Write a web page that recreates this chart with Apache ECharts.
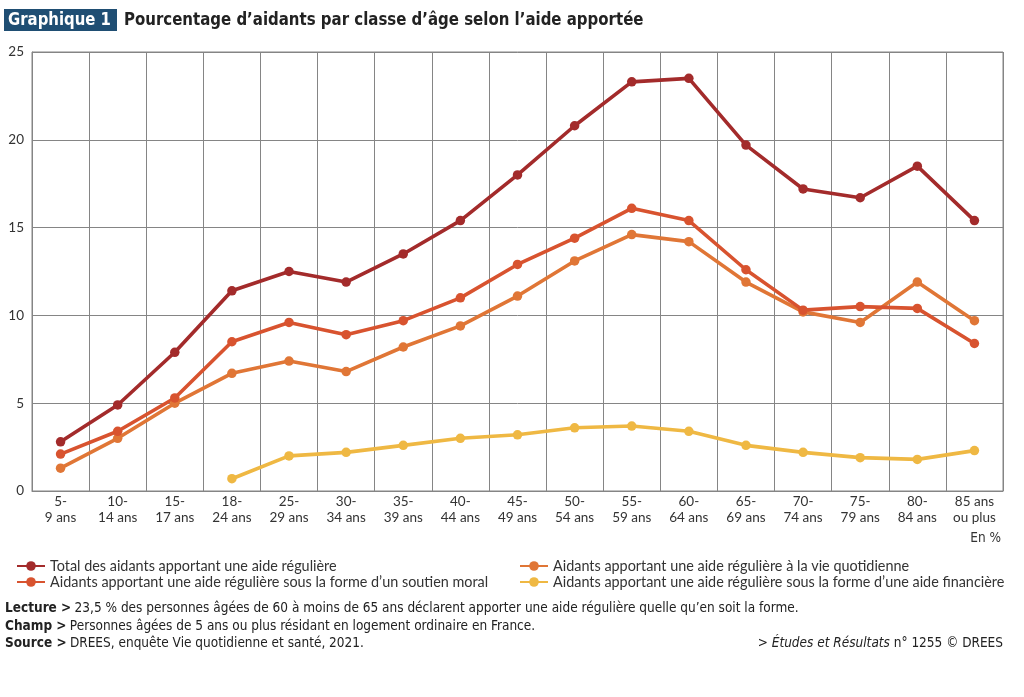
<!DOCTYPE html>
<html><head><meta charset="utf-8">
<script src="https://cdn.jsdelivr.net/npm/echarts@6/dist/echarts.min.js"></script>
<style>html,body{margin:0;padding:0;background:#fff}#c{width:1024px;height:697px}</style>
</head><body><div id="c"></div>
<script>
var categories = ["5-\n9 ans","10-\n14 ans","15-\n17 ans","18-\n24 ans","25-\n29 ans","30-\n34 ans","35-\n39 ans","40-\n44 ans","45-\n49 ans","50-\n54 ans","55-\n59 ans","60-\n64 ans","65-\n69 ans","70-\n74 ans","75-\n79 ans","80-\n84 ans","85 ans\nou plus"];
var totalVals = [2.8,4.9,7.9,11.4,12.5,11.9,13.5,15.4,18.0,20.8,23.3,23.5,19.7,17.2,16.7,18.5,15.4];
var quotidienneVals = [1.3,3.0,5.0,6.7,7.4,6.8,8.2,9.4,11.1,13.1,14.6,14.2,11.9,10.2,9.6,11.9,9.7];
var moralVals = [2.1,3.4,5.3,8.5,9.6,8.9,9.7,11.0,12.9,14.4,16.1,15.4,12.6,10.3,10.5,10.4,8.4];
var financiereVals = [null,null,null,0.7,2.0,2.2,2.6,3.0,3.2,3.6,3.7,3.4,2.6,2.2,1.9,1.8,2.3];
var yTicks = [0,5,10,15,20,25];
var names = {
  total: "Total des aidants apportant une aide régulière",
  quot: "Aidants apportant une aide régulière à la vie quotidienne",
  moral: "Aidants apportant une aide régulière sous la forme d’un soutien moral",
  fin: "Aidants apportant une aide régulière sous la forme d’une aide financière"
};

var chart = echarts.init(document.getElementById('c'));
var baseFont = 'Lato, "Open Sans", sans-serif';
var narrow = '"DejaVu Sans Condensed", Lato, sans-serif';
function mk(name, data, color) {
  return {name: name, type: 'line', data: data, symbol: 'circle', symbolSize: 9.5,
    lineStyle: {width: 3.6, color: color}, itemStyle: {color: color}, connectNulls: false, animation: false};
}
var rich = {
  b: {fontWeight: 'bold', fontFamily: narrow, fontSize: 13.5, fill: '#222'},
  n: {fontFamily: narrow, fontSize: 13.5, fill: '#222'},
  i: {fontStyle: 'italic', fontFamily: narrow, fontSize: 13.5, fill: '#222'}
};
chart.setOption({
  animation: false,
  grid: {left: 32, right: 21, top: 52, bottom: 206, show: true, borderColor: '#858585', borderWidth: 1},
  xAxis: {type: 'category', data: categories, boundaryGap: true,
    axisLine: {lineStyle: {color: '#858585'}}, axisTick: {show: false},
    splitLine: {show: true, lineStyle: {color: '#858585', width: 1}},
    axisLabel: {color: '#333', fontFamily: baseFont, fontSize: 13.5, lineHeight: 16.5, margin: 2, interval: 0}},
  yAxis: {type: 'value', min: 0, max: 25, interval: 5,
    axisLine: {show: true, lineStyle: {color: '#858585'}}, axisTick: {show: false},
    splitLine: {lineStyle: {color: '#858585', width: 1}},
    axisLabel: {color: '#333', fontFamily: baseFont, fontSize: 13.5, margin: 8,
      formatter: function(v){ return yTicks.indexOf(v) >= 0 ? String(v) : ''; }}},
  legend: [
    {orient: 'vertical', left: 11, top: 554, itemGap: 2, itemWidth: 28, itemHeight: 12,
      data: [names.total, names.moral], textStyle: {fontFamily: baseFont, fontSize: 14.4, color: '#333'}},
    {orient: 'vertical', left: 514, top: 554, itemGap: 2, itemWidth: 28, itemHeight: 12,
      data: [names.quot, names.fin], textStyle: {fontFamily: baseFont, fontSize: 14.4, color: '#333'}}
  ],
  series: [
    mk(names.fin, financiereVals, '#efb843'),
    mk(names.quot, quotidienneVals, '#e07636'),
    mk(names.moral, moralVals, '#d8532f'),
    mk(names.total, totalVals, '#a32b2b')
  ],
  graphic: [
    {type: 'rect', left: 4, top: 9, shape: {width: 113, height: 22}, style: {fill: '#1f4e73'}},
    {type: 'text', x: 8, y: 11, scaleX: 0.92, style: {text: 'Graphique 1', fill: '#fff', font: 'bold 18px ' + narrow}},
    {type: 'text', x: 124, y: 11, scaleX: 0.925, style: {text: 'Pourcentage d’aidants par classe d’âge selon l’aide apportée', fill: '#222', font: 'bold 18px ' + narrow}},
    {type: 'text', right: 23, top: 531, style: {text: 'En %', fill: '#333', font: '13.5px ' + narrow}},
    {type: 'text', left: 5, top: 601, style: {rich: rich,
      text: '{b|Lecture >} {n|23,5 % des personnes âgées de 60 à moins de 65 ans déclarent apporter une aide régulière quelle qu’en soit la forme.}'}},
    {type: 'text', left: 5, top: 619, style: {rich: rich,
      text: '{b|Champ >} {n|Personnes âgées de 5 ans ou plus résidant en logement ordinaire en France.}'}},
    {type: 'text', left: 5, top: 636, style: {rich: rich,
      text: '{b|Source >} {n|DREES, enquête Vie quotidienne et santé, 2021.}'}},
    {type: 'text', right: 21, top: 636, style: {rich: rich,
      text: '{n|> }{i|Études et Résultats}{n| n° 1255 © DREES}'}}
  ]
});
</script></body></html>
